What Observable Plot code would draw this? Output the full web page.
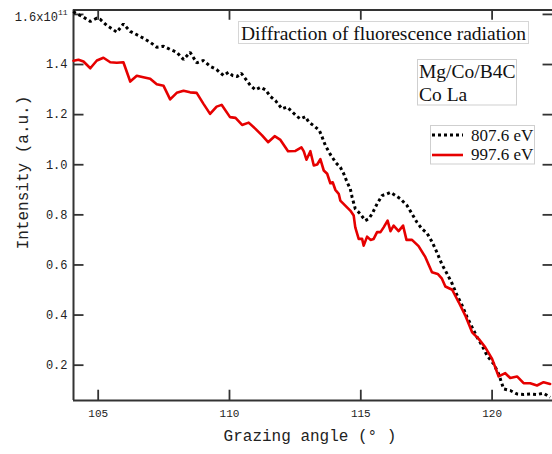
<!DOCTYPE html>
<html>
<head>
<meta charset="utf-8">
<script src="https://cdn.jsdelivr.net/npm/d3@7"></script>
<script src="https://cdn.jsdelivr.net/npm/@observablehq/plot@0.6"></script>
<style>
  html, body { margin: 0; padding: 0; background: #fff; }
  #chart svg { display: block; }
</style>
</head>
<body>
<div id="chart"></div>
<script>
// ---- Data (intensity in units of 1e11) ----
const titleText = "Diffraction of fluorescence radiation";
const sampleLines = ["Mg/Co/B4C", "Co La"];
const seriesNames = ["807.6 eV", "997.6 eV"];
const xLabel = "Grazing angle (° )";
const yLabel = "Intensity (a.u.)";

const xDomain = [104.06, 122.3];
const yDomain = [0.059, 1.6176];
const xTicks = [105, 110, 115, 120];
const yTicks = [0.2, 0.4, 0.6, 0.8, 1.0, 1.2, 1.4, 1.6];

// 807.6 eV (black dotted)
const blackX = [104.06,104.12,104.44,104.70,104.95,105.08,105.33,105.52,105.71,105.96,106.22,106.47,106.72,106.98,107.23,107.49,107.74,107.99,108.25,108.50,108.75,109.01,109.26,109.51,109.77,109.96,110.12,110.29,110.45,110.61,110.80,110.99,111.18,111.37,111.56,111.75,112.00,112.19,112.38,112.58,112.70,112.89,113.02,113.21,113.42,113.53,113.65,113.84,113.97,114.03,114.22,114.35,114.48,114.60,114.67,114.79,114.98,115.17,115.30,115.43,115.62,115.81,116.00,116.13,116.32,116.51,116.76,116.95,117.14,117.33,117.52,117.71,117.90,118.09,118.29,118.48,118.67,118.86,119.05,119.24,119.43,119.62,119.81,120.06,120.25,120.44,120.69,120.95,121.20,121.45,121.71,121.96,122.21];
const blackY = [1.612,1.606,1.589,1.572,1.585,1.580,1.556,1.543,1.529,1.562,1.532,1.519,1.505,1.489,1.469,1.473,1.460,1.449,1.420,1.449,1.407,1.416,1.393,1.380,1.356,1.369,1.356,1.352,1.365,1.343,1.316,1.299,1.309,1.299,1.272,1.256,1.223,1.230,1.212,1.192,1.183,1.192,1.170,1.156,1.137,1.110,1.077,1.041,1.021,1.010,0.990,0.964,0.930,0.904,0.870,0.824,0.804,0.777,0.784,0.804,0.844,0.877,0.884,0.890,0.877,0.864,0.837,0.804,0.770,0.744,0.727,0.693,0.650,0.602,0.564,0.525,0.478,0.438,0.391,0.351,0.311,0.278,0.238,0.205,0.165,0.105,0.099,0.085,0.083,0.085,0.083,0.088,0.072];

// 997.6 eV (red solid)
const redX = [104.06,104.25,104.44,104.70,104.95,105.20,105.46,105.71,105.96,106.22,106.47,106.72,106.98,107.23,107.49,107.74,107.99,108.25,108.50,108.75,109.01,109.26,109.51,109.70,110.02,110.23,110.48,110.73,110.99,111.24,111.47,111.72,111.94,112.23,112.51,112.74,112.83,112.93,113.08,113.21,113.34,113.46,113.59,113.72,113.84,113.93,114.03,114.16,114.22,114.41,114.60,114.73,114.79,114.92,115.05,115.11,115.24,115.37,115.49,115.62,115.75,115.87,116.02,116.13,116.25,116.44,116.61,116.74,116.95,117.20,117.46,117.71,117.93,118.09,118.22,118.48,118.73,118.98,119.24,119.49,119.74,120.00,120.25,120.50,120.69,120.95,121.20,121.45,121.71,121.96,122.21];
const redY = [1.415,1.419,1.412,1.385,1.416,1.427,1.409,1.407,1.409,1.332,1.355,1.349,1.343,1.321,1.315,1.261,1.287,1.295,1.289,1.287,1.243,1.203,1.232,1.239,1.190,1.187,1.159,1.168,1.143,1.117,1.090,1.114,1.099,1.054,1.055,1.069,1.053,1.020,1.054,0.997,1.001,1.022,0.977,0.964,0.926,0.930,0.900,0.884,0.857,0.837,0.817,0.797,0.750,0.704,0.704,0.677,0.713,0.700,0.704,0.731,0.731,0.750,0.777,0.735,0.757,0.735,0.757,0.700,0.700,0.675,0.631,0.571,0.564,0.545,0.514,0.501,0.451,0.398,0.331,0.305,0.271,0.225,0.155,0.168,0.149,0.155,0.128,0.128,0.119,0.132,0.125];

const blackData = blackX.map((x, i) => ({x, y: blackY[i]}));
const redData = redX.map((x, i) => ({x, y: redY[i]}));

const RED = "#e60000";
const AXIS = "#333";
const MONO = "'Liberation Mono', 'DejaVu Sans Mono', monospace";
const SERIF = "'Liberation Serif', 'Times New Roman', serif";

const tickLenX = 0.4;   // in x units
const tickLenY = 0.041; // in y units

const chart = Plot.plot({
  width: 552,
  height: 454,
  marginLeft: 73,
  marginRight: 0,
  marginTop: 9.5,
  marginBottom: 54,
  x: {domain: xDomain},
  y: {domain: yDomain},
  style: {background: "#fff", fontFamily: MONO, color: "#222"},
  marks: [
    // frame lines
    Plot.ruleX([xDomain[0]], {stroke: AXIS, strokeWidth: 2}),
    Plot.ruleY([yDomain[0]], {stroke: AXIS, strokeWidth: 2}),
    Plot.ruleY([yDomain[1]], {stroke: AXIS, strokeWidth: 2}),
    // inward ticks
    Plot.ruleY(yTicks, {y: d => d, x1: xDomain[0], x2: xDomain[0] + tickLenX, stroke: AXIS, strokeWidth: 1.8}),
    Plot.ruleY(yTicks, {y: d => d, x1: xDomain[1] - tickLenX * 0.9, x2: xDomain[1], stroke: AXIS, strokeWidth: 1.8}),
    Plot.ruleX(xTicks, {x: d => d, y1: yDomain[0], y2: yDomain[0] + tickLenY, stroke: AXIS, strokeWidth: 1.8}),
    Plot.ruleX(xTicks, {x: d => d, y1: yDomain[1] - tickLenY, y2: yDomain[1], stroke: AXIS, strokeWidth: 1.8}),
    // tick labels
    Plot.axisX(xTicks, {tickSize: 0, tickPadding: 9, fontSize: 11, label: null, fill: "#222"}),
    Plot.axisY(yTicks, {tickSize: 0, tickPadding: 6, fontSize: 12, label: null, fill: "#222",
      tickFormat: d => d === 1.6 ? "1.6x10" : d.toFixed(1)}),
    // data
    Plot.line(blackData, {x: "x", y: "y", stroke: "#000", strokeWidth: 3, strokeDasharray: "3 3", strokeLinecap: "butt", strokeLinejoin: "miter"}),
    Plot.line(redData, {x: "x", y: "y", stroke: RED, strokeWidth: 2.6})
  ]
});

document.getElementById("chart").appendChild(chart);

// superscript on top label
const svg = d3.select(chart);
svg.selectAll("text").each(function() {
  if (this.textContent === "1.6x10") {
    d3.select(this).attr("dy", 3);
    d3.select(this).append("tspan").attr("font-size", 8).attr("dy", -6).text("11");
  }
});

const ann = svg.append("g").attr("text-anchor", "start");

// axis titles
ann.append("text")
  .attr("x", 310).attr("y", 437)
  .attr("text-anchor", "middle").attr("dominant-baseline", "middle")
  .attr("font-family", MONO).attr("font-size", 16).attr("fill", "#222")
  .text(xLabel);
ann.append("text")
  .attr("transform", "translate(24,172.5) rotate(-90)")
  .attr("text-anchor", "middle").attr("dominant-baseline", "middle")
  .attr("font-family", MONO).attr("font-size", 16).attr("fill", "#222")
  .text(yLabel);

// title box
ann.append("rect").attr("x", 238.5).attr("y", 21.5).attr("width", 290).attr("height", 22)
  .attr("fill", "#fff").attr("stroke", "#d6d6d6");
ann.append("text").attr("x", 241).attr("y", 39.5).attr("text-anchor", "start")
  .attr("font-family", SERIF).attr("font-size", 19.5).attr("fill", "#111")
  .text(titleText);

// sample box
ann.append("rect").attr("x", 417.5).attr("y", 59.5).attr("width", 99).attr("height", 45.5)
  .attr("fill", "#fff").attr("stroke", "#cfcfcf");
sampleLines.forEach((t, i) => {
  ann.append("text").attr("x", 419).attr("y", 78.3 + i * 22.3).attr("text-anchor", "start")
    .attr("font-family", SERIF).attr("font-size", 19.5).attr("fill", "#111")
    .text(t);
});

// legend
ann.append("rect").attr("x", 430.5).attr("y", 125.5).attr("width", 104).attr("height", 38.5)
  .attr("fill", "#fff").attr("stroke", "#cfcfcf");
const legendStyles = [
  {stroke: "#000", width: 3, dash: "3 3"},
  {stroke: RED, width: 2.6, dash: null}
];
seriesNames.forEach((name, i) => {
  const yy = 135 + i * 20;
  const ln = ann.append("line").attr("x1", 432).attr("x2", 463).attr("y1", yy).attr("y2", yy)
    .attr("stroke", legendStyles[i].stroke).attr("stroke-width", legendStyles[i].width);
  if (legendStyles[i].dash) ln.attr("stroke-dasharray", legendStyles[i].dash);
  ann.append("text").attr("x", 471).attr("y", 141 + i * 18.5).attr("text-anchor", "start")
    .attr("font-family", SERIF).attr("font-size", 17).attr("fill", "#111")
    .text(name);
});
</script>
</body>
</html>
